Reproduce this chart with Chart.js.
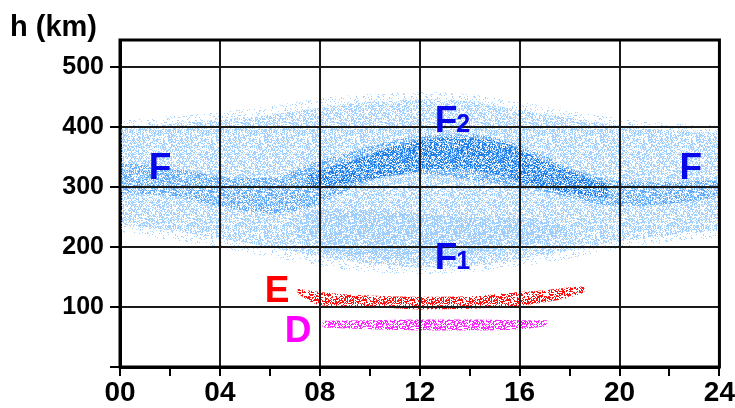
<!DOCTYPE html>
<html>
<head>
<meta charset="utf-8">
<script src="https://cdn.jsdelivr.net/npm/chart.js@4/dist/chart.umd.min.js"></script>
<style>
  html, body { margin: 0; padding: 0; background: #fff; }
  #wrap { width: 735px; height: 408px; }
</style>
</head>
<body>
<div id="wrap"><canvas id="chart" width="735" height="408"></canvas></div>
<script>
// Local time (hours) and virtual height (km)

// sparse fringe round the F cloud
const haloHours = [0, 2, 4, 6, 8, 10, 12, 14, 16, 18, 20, 22, 24];
const haloTop = [410, 418, 425, 435, 448, 455, 458, 455, 442, 428, 414, 406, 402];
const haloBottom = [225, 212, 198, 184, 168, 158, 155, 157, 168, 180, 198, 208, 216];

// whole F cloud (outer envelope)
const fHours = [0, 2, 4, 6, 8, 10, 12, 14, 16, 18, 20, 22, 24];
const fTop = [397, 405, 412, 420, 432, 442, 446, 443, 428, 415, 402, 394, 390];
const fBottom = [238, 228, 214, 200, 184, 172, 166, 168, 180, 195, 210, 220, 228];

// denser F core (night F merging into F2)
const coreHours = [0, 2, 4, 6, 7, 8, 9, 10, 12, 14, 16, 17, 18, 20, 22, 24];
const coreTop = [340, 332, 318, 315, 328, 345, 355, 368, 385, 388, 370, 352, 332, 310, 308, 312];
const coreBottom = [290, 285, 268, 256, 260, 272, 292, 310, 322, 312, 298, 292, 282, 268, 272, 282];

// darkest F2 streak
const darkHours = [7.5, 9, 11, 13, 15, 16.5, 18, 19.5];
const darkTop = [322, 340, 368, 382, 378, 352, 326, 305];
const darkBottom = [298, 305, 320, 330, 322, 303, 290, 282];

// F1 layer
const f1Hours = [7, 8, 10, 12, 14, 16, 17, 18];
const f1Top = [245, 262, 262, 255, 250, 248, 242, 232];
const f1Bottom = [220, 195, 182, 178, 188, 200, 210, 222];

// E layer
const eHours = [7.1, 8, 10, 12, 14, 16, 17, 18, 18.6];
const eTop = [131, 125, 119, 117, 118, 125, 128, 133, 134];
const eBottom = [122, 103, 100, 96, 97, 102, 108, 116, 124];

// D layer
const dHours = [8.1, 10, 12, 14, 16, 17.1];
const dTop = [77, 78, 79, 79, 78, 78];
const dBottom = [66, 63, 61, 61, 63, 68];

// axes
const hourTicks = [0, 2, 4, 6, 8, 10, 12, 14, 16, 18, 20, 22, 24];
const hourLabels = ['00', '04', '08', '12', '16', '20', '24'];
const heightTicks = [0, 100, 200, 300, 400, 500];

// speckled fill, like the scattered sounding points (fixed hashed dither tile)
function dots(color, percent, seed) {
    const n = 48;
    const tile = document.createElement('canvas');
    tile.width = n;
    tile.height = n;
    const c = tile.getContext('2d');
    c.fillStyle = color;
    for (let i = 0; i < n; i++) {
        for (let j = 0; j < n; j++) {
            let h = Math.imul(i + 1, 374761393) + Math.imul(j + 1, 668265263) + Math.imul(seed + 1, 2246822519);
            h = Math.imul(h ^ (h >>> 13), 1274126177);
            h = (h ^ (h >>> 16)) >>> 0;
            if (h % 100 < percent) c.fillRect(i, j, 1, 1);
        }
    }
    return c.createPattern(tile, 'repeat');
}

// two line datasets, the lower one filled up to the upper one
function band(name, xs, tops, bottoms, fill, order) {
    const common = {
        type: 'line',
        pointRadius: 0,
        borderWidth: 0,
        borderColor: 'transparent',
        cubicInterpolationMode: 'monotone',
        order: order
    };
    return [
        Object.assign({}, common, {
            label: name + ' top',
            data: xs.map((h, i) => ({ x: h, y: tops[i] })),
            fill: false
        }),
        Object.assign({}, common, {
            label: name,
            data: xs.map((h, i) => ({ x: h, y: bottoms[i] })),
            fill: '-1',
            backgroundColor: fill
        })
    ];
}

const datasets = [].concat(
    band('halo', haloHours, haloTop, haloBottom, dots('#a6d3ff', 12, 11), 7),
    band('F', fHours, fTop, fBottom, dots('#a2d0ff', 38, 0), 6),
    band('F1', f1Hours, f1Top, f1Bottom, dots('#9ccdfc', 32, 5), 5),
    band('F core', coreHours, coreTop, coreBottom, dots('#5ea8f5', 34, 3), 4),
    band('F2', darkHours, darkTop, darkBottom, dots('#1f7be6', 36, 8), 3),
    band('E', eHours, eTop, eBottom, dots('#ff1010', 45, 2), 2),
    band('D', dHours, dTop, dBottom, dots('#ff20ff', 45, 6), 2)
);

// grid lines over the points, layer names, frame and axis title
const overlay = {
    id: 'overlay',
    afterDatasetsDraw(chart) {
        const { ctx, chartArea: a, scales: { x, y } } = chart;
        ctx.save();
        ctx.strokeStyle = '#1a1a1a';
        ctx.lineWidth = 2;
        hourTicks.filter(h => h % 4 === 0).forEach(h => {
            const px = Math.round(x.getPixelForValue(h));
            ctx.beginPath(); ctx.moveTo(px, a.top); ctx.lineTo(px, a.bottom); ctx.stroke();
        });
        heightTicks.forEach(v => {
            const py = Math.round(y.getPixelForValue(v));
            ctx.beginPath(); ctx.moveTo(a.left, py); ctx.lineTo(a.right, py); ctx.stroke();
        });

        const label = (txt, sub, h, km, color) => {
            const px = x.getPixelForValue(h);
            const py = y.getPixelForValue(km);
            ctx.fillStyle = color;
            ctx.textBaseline = 'alphabetic';
            ctx.textAlign = 'left';
            ctx.font = 'bold 37px "Liberation Sans", Arial, sans-serif';
            ctx.fillText(txt, px, py);
            if (sub) {
                const w = ctx.measureText(txt).width;
                ctx.font = 'bold 25px "Liberation Sans", Arial, sans-serif';
                ctx.fillText(sub, px + w - 1, py);
            }
        };
        label('F', '', 1.15, 313, '#0808e8');
        label('F', '', 22.4, 313, '#0808e8');
        label('F', '2', 12.6, 392, '#0808e8');
        label('F', '1', 12.6, 163, '#0808e8');
        label('E', '', 5.8, 108, '#ff0000');
        label('D', '', 6.6, 42, '#ff00ff');

        ctx.strokeStyle = '#000';
        ctx.lineWidth = 3;
        ctx.strokeRect(a.left, a.top, a.right - a.left, a.bottom - a.top);

        ctx.fillStyle = '#000';
        ctx.font = 'bold 29px "Liberation Sans", Arial, sans-serif';
        ctx.fillText('h (km)', 10, 36);
        ctx.restore();
    }
};

new Chart(document.getElementById('chart'), {
    type: 'line',
    data: { datasets: datasets },
    options: {
        responsive: false,
        animation: false,
        layout: { padding: { top: 40, right: 15, left: 0, bottom: 0 } },
        plugins: {
            legend: { display: false },
            tooltip: { enabled: false }
        },
        scales: {
            x: {
                type: 'linear',
                min: 0,
                max: 24,
                afterBuildTicks: axis => { axis.ticks = hourTicks.map(v => ({ value: v })); },
                afterFit: axis => { axis.height = 41; },
                ticks: {
                    autoSkip: false,
                    maxRotation: 0,
                    padding: 0,
                    color: '#000',
                    font: { family: '"Liberation Sans", Arial, sans-serif', size: 28, weight: 'bold' },
                    callback: v => (v % 4 === 0 ? hourLabels[v / 4] : '')
                },
                grid: {
                    drawOnChartArea: false,
                    tickLength: 9,
                    tickColor: '#000',
                    lineWidth: 2
                },
                border: { color: '#000', width: 3 }
            },
            y: {
                type: 'linear',
                min: 0,
                max: 545,
                afterBuildTicks: axis => { axis.ticks = heightTicks.map(v => ({ value: v })); },
                afterFit: axis => { axis.width = 120; },
                ticks: {
                    padding: 6,
                    color: '#000',
                    font: { family: '"Liberation Sans", Arial, sans-serif', size: 25, weight: 'bold' },
                    callback: v => (v === 0 ? '' : String(v))
                },
                grid: {
                    drawOnChartArea: false,
                    tickLength: 10,
                    tickColor: '#000',
                    lineWidth: 2
                },
                border: { color: '#000', width: 3 }
            }
        }
    },
    plugins: [overlay]
});
</script>
</body>
</html>
